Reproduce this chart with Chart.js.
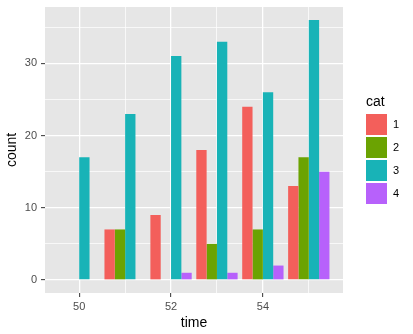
<!DOCTYPE html>
<html>
<head>
<meta charset="utf-8">
<script src="https://cdn.jsdelivr.net/npm/chart.js@4/dist/chart.umd.min.js"></script>
<style>
  html, body { margin: 0; padding: 0; background: #ffffff; }
  #wrap { width: 413px; height: 334px; }
</style>
</head>
<body>
<div id="wrap"><canvas id="chart" width="413" height="334"></canvas></div>
<script>
"use strict";

// counts per time step, one array per category
var time_values = [50, 51, 52, 53, 54, 55];
var cat_names = ['1', '2', '3', '4'];
var count_cat1 = [0, 7, 9, 18, 24, 13];
var count_cat2 = [0, 7, 0, 5, 7, 17];
var count_cat3 = [17, 23, 31, 33, 26, 36];
var count_cat4 = [0, 0, 1, 1, 2, 15];

// axis breaks (major labelled, minor only gridlines)
var x_breaks = [50, 51, 52, 53, 54, 55];
var x_labels = [50, 52, 54];
var y_breaks = [0, 5, 10, 15, 20, 25, 30, 35];
var y_labels = [0, 10, 20, 30];

var cat_colors = ['#F35F5B', '#6BA302', '#18B3B7', '#B761FB'];
var _series = [count_cat1, count_cat2, count_cat3, count_cat4];

var FONT = '"Liberation Sans", Arial, Helvetica, sans-serif';

function _points(_values) {
    return _values.map(function(_v, _i) { return {x: time_values[_i], y: _v}; });
}

var _datasets = _series.map(function(_values, _i) {
    return {
        label: cat_names[_i],
        data: _points(_values),
        backgroundColor: cat_colors[_i],
        borderWidth: 0,
        categoryPercentage: 0.9,
        barPercentage: 1.0
    };
});

// grey panel behind the plotting area
var panelBackground = {
    id: 'panelBackground',
    beforeDraw: function(chart) {
        var _ctx = chart.ctx;
        var _a = chart.chartArea;
        _ctx.save();
        _ctx.fillStyle = '#E6E6E6';
        _ctx.fillRect(_a.left, _a.top, _a.right - _a.left, _a.bottom - _a.top);
        _ctx.restore();
    }
};

// ggplot-like legend with square keys on the right
var sideLegend = {
    id: 'sideLegend',
    afterDraw: function(chart) {
        var _ctx = chart.ctx;
        var _x = 366;
        var _y = 114;
        var _key = 21;
        var _step = 23;
        _ctx.save();
        _ctx.fillStyle = '#000000';
        _ctx.font = '14px ' + FONT;
        _ctx.textBaseline = 'middle';
        _ctx.textAlign = 'left';
        _ctx.fillText('cat', _x, 102);
        _ctx.font = '11px ' + FONT;
        cat_names.forEach(function(_name, _i) {
            var _top = _y + _i * _step;
            _ctx.fillStyle = cat_colors[_i];
            _ctx.fillRect(_x, _top, _key, _key);
            _ctx.fillStyle = '#000000';
            _ctx.fillText(_name, _x + _key + 6, _top + _key / 2 + 0.5);
        });
        _ctx.restore();
    }
};

// true when the tick in a scriptable context is one of the labelled breaks
function _isMajor(_list, ctx) {
    if (!ctx || !ctx.tick) { return false; }
    return _list.indexOf(ctx.tick.value) !== -1;
}

new Chart(document.getElementById('chart'), {
    type: 'bar',
    data: { datasets: _datasets },
    plugins: [panelBackground, sideLegend],
    options: {
        responsive: false,
        animation: false,
        devicePixelRatio: 1,
        layout: { padding: { top: 7, right: 70, left: 0, bottom: 0 } },
        plugins: {
            legend: { display: false },
            tooltip: { enabled: false }
        },
        scales: {
            x: {
                type: 'linear',
                min: 49.255,
                max: 55.745,
                offset: false,
                border: { display: false },
                afterBuildTicks: function(scale) {
                    scale.ticks = x_breaks.map(function(_v) { return {value: _v}; });
                },
                afterFit: function(scale) {
                    scale.height = 41;
                    scale.paddingLeft = 0;
                    scale.paddingRight = 0;
                },
                grid: {
                    offset: false,
                    color: '#ffffff',
                    lineWidth: function(ctx) { return _isMajor(x_labels, ctx) ? 1.3 : 0.7; },
                    tickColor: function(ctx) { return _isMajor(x_labels, ctx) ? '#333333' : 'rgba(0,0,0,0)'; },
                    tickLength: 4,
                    tickWidth: 1
                },
                ticks: {
                    autoSkip: false,
                    maxRotation: 0,
                    padding: 3,
                    color: '#4D4D4D',
                    font: { family: FONT, size: 11 },
                    callback: function(v) { return x_labels.indexOf(v) !== -1 ? String(v) : ''; }
                },
                title: {
                    display: true,
                    text: 'time',
                    color: '#000000',
                    font: { family: FONT, size: 14 },
                    padding: { top: 0, bottom: 2 }
                }
            },
            y: {
                type: 'linear',
                min: -1.8,
                max: 37.8,
                border: { display: false },
                afterBuildTicks: function(scale) {
                    scale.ticks = y_breaks.map(function(_v) { return {value: _v}; });
                },
                afterFit: function(scale) {
                    scale.width = 45;
                    scale.paddingTop = 0;
                    scale.paddingBottom = 0;
                },
                grid: {
                    color: '#ffffff',
                    lineWidth: function(ctx) { return _isMajor(y_labels, ctx) ? 1.3 : 0.7; },
                    tickColor: function(ctx) { return _isMajor(y_labels, ctx) ? '#333333' : 'rgba(0,0,0,0)'; },
                    tickLength: 4,
                    tickWidth: 1
                },
                ticks: {
                    autoSkip: false,
                    padding: 4,
                    color: '#4D4D4D',
                    font: { family: FONT, size: 11 },
                    callback: function(v) { return y_labels.indexOf(v) !== -1 ? String(v) : ''; }
                },
                title: {
                    display: true,
                    text: 'count',
                    color: '#000000',
                    font: { family: FONT, size: 14 },
                    padding: { top: 4, bottom: 0 }
                }
            }
        }
    }
});
</script>
</body>
</html>
